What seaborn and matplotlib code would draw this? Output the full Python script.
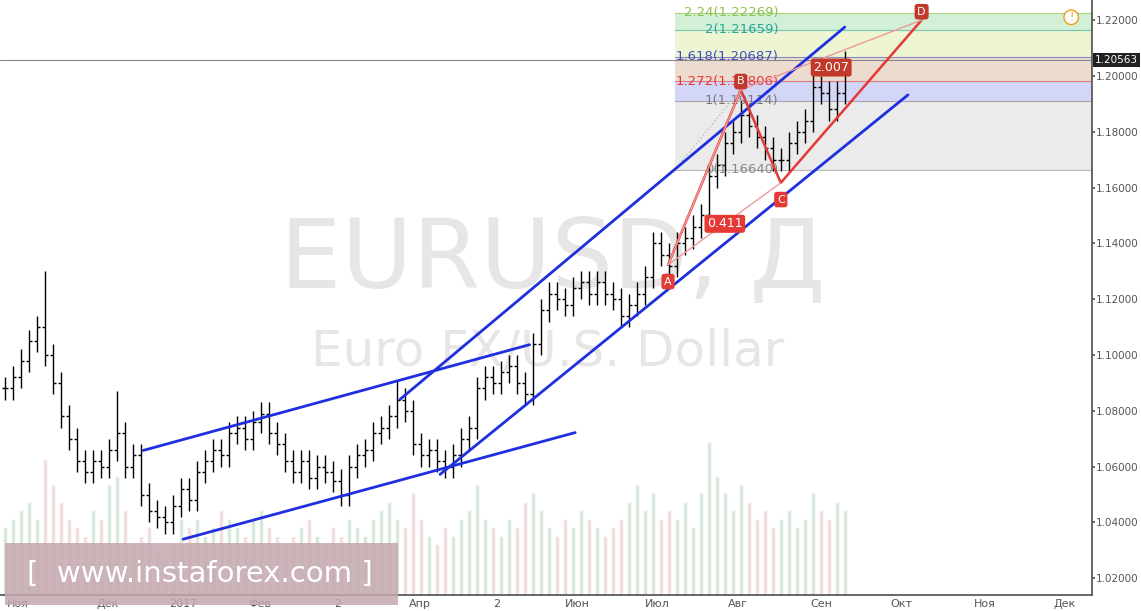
import matplotlib
matplotlib.use("Agg")
import matplotlib.pyplot as plt
import seaborn as sns
import numpy as np
import pandas as pd

sns.set_theme(style="white")
plt.rcParams['font.family'] = ['DejaVu Sans']

closes = [1.088,1.092,1.098,1.105,1.110,1.100,1.090,1.078,1.070,1.062,
          1.058,1.062,1.060,1.066,1.072,1.060,1.064,1.050,1.044,1.042,
          1.040,1.046,1.052,1.048,1.058,1.062,1.066,1.064,1.072,1.074,
          1.070,1.076,1.079,1.072,1.068,1.062,1.058,1.062,1.056,1.060,
          1.058,1.055,1.050,1.060,1.064,1.066,1.072,1.074,1.078,1.084,
          1.080,1.068,1.064,1.066,1.062,1.060,1.064,1.070,1.074,1.088,
          1.092,1.090,1.094,1.096,1.090,1.086,1.104,1.116,1.122,1.120,
          1.118,1.124,1.126,1.122,1.126,1.122,1.120,1.114,1.118,1.122,
          1.128,1.140,1.136,1.132,1.140,1.142,1.146,1.150,1.164,1.168,
          1.176,1.180,1.186,1.182,1.178,1.174,1.170,1.170,1.176,1.180,
          1.184,1.196,1.194,1.188,1.194,1.204]
extra_highs = {5: 1.130, 14: 1.087, 49: 1.091, 92: 1.191, 101: 1.203, 105: 1.209}
volumes = [0.8,0.9,1.0,1.1,0.9,1.6,1.3,1.1,0.9,0.8,0.7,1.0,0.9,1.3,1.4,1.0,0.6,0.7,0.8,0.5,
           0.4,0.6,0.9,0.8,0.9,0.7,0.8,1.0,0.9,0.8,0.7,0.9,1.0,0.8,0.7,0.6,0.7,0.8,0.9,0.7,
           0.6,0.8,0.7,0.9,0.8,0.7,0.9,1.0,1.1,0.9,0.8,1.2,0.9,0.7,0.6,0.8,0.7,0.9,1.0,1.3,
           0.9,0.8,0.7,0.9,0.8,1.1,1.2,1.0,0.8,0.7,0.9,0.8,1.0,0.9,0.8,0.7,0.8,0.9,1.1,1.3,
           1.0,1.2,0.9,1.0,0.9,1.1,0.8,1.2,1.8,1.4,1.2,1.0,1.3,1.1,0.9,1.0,0.8,0.9,1.0,0.8,
           0.9,1.2,1.0,0.9,1.1,1.0]
month_ticks = [1.6,12.9,22.3,31.9,41.6,51.9,61.5,71.6,81.6,91.6,102.1,112.1,122.5,132.5]
month_labels = ["Ноя","Дек","2017","Фев","2","Апр","2","Июн","Июл","Авг","Сен","Окт","Ноя","Дек"]
price_ticks = [1.02,1.04,1.06,1.08,1.10,1.12,1.14,1.16,1.18,1.20,1.22]
fib_levels = [0.0,1.0,1.272,1.618,2.0,2.24]
fib_prices = [1.16640,1.19114,1.19806,1.20687,1.21659,1.22269]
fib_colors = ["#ebebeb","#d4d6f7","#ecdcd0","#eef5d2","#d2f0d5"]
fib_text_colors = ["#888888","#7a7a7a","#e53935","#3f51b5","#26a69a","#8bc34a"]
blue_lines = [((49.4,1.0841),(105.0,1.2175)),((54.4,1.0572),(112.9,1.1932)),
              ((17.3,1.0658),(65.6,1.1037)),((22.3,1.0340),(71.3,1.0722))]
pts = {"A":(82.9,1.1323),"B":(92.0,1.1950),"C":(97.0,1.1617),"D":(114.6,1.2200)}
last_price = 1.20563

fig = plt.figure(figsize=(11.41,6.11), dpi=100)
ax = fig.add_axes([0, 16/611, 1092/1141, 595/611])
ymin, ymax = 1.0140, 1.2272
xmax = 135.9
ax.set_xlim(-0.6, xmax); ax.set_ylim(ymin, ymax)

# volume
vax = ax.twinx()
vdf = pd.DataFrame({"i": np.arange(len(volumes)), "v": volumes})
opens = [closes[0]] + closes[:-1]
vcols = ["#b5dcbd" if c >= o else "#f1c0c0" for o, c in zip(opens, closes)]
sns.barplot(data=vdf, x="i", y="v", hue="i", palette=vcols, legend=False,
            native_scale=True, ax=vax, width=0.45, alpha=0.6)
vax.set_ylim(0, 7.0); vax.set_yticks([]); vax.set_ylabel(""); vax.set_xlim(-0.6, xmax)
vax.set_zorder(0); ax.set_zorder(1); ax.patch.set_visible(False)
for s in vax.spines.values(): s.set_visible(False)

# watermark
ax.text(550/1092*xmax, 1.22-(262-20)/2795, "EURUSD, Д", fontsize=70, color="#e6e6e6",
        ha="center", va="center", zorder=0)
ax.text(545/1092*xmax, 1.22-(352-20)/2795, "Euro FX/U.S. Dollar", fontsize=36, color="#e6e6e6",
        ha="center", va="center", zorder=0)

# fib zones
x0 = 83.75
for k in range(5):
    ax.fill_between([x0, xmax], fib_prices[k], fib_prices[k+1], color=fib_colors[k], zorder=0.5, lw=0)
for k, (lv, p) in enumerate(zip(fib_levels, fib_prices)):
    ax.plot([x0, xmax], [p, p], color=fib_text_colors[k], lw=0.8, alpha=0.6, zorder=0.6)
    lab = f"{lv:g}({p:.5f})"
    ax.text(96.7, p, lab, fontsize=9.5, color=fib_text_colors[k],
            ha="right", va="center", zorder=3)

# OHLC bars
for i, c in enumerate(closes):
    o = opens[i]
    hi = extra_highs.get(i, max(o, c) + 0.004)
    lo = min(o, c) - 0.004
    ax.vlines(i, lo, hi, color="black", lw=1.0, zorder=2)
    ax.hlines(o, i-0.35, i, color="black", lw=1.0, zorder=2)
    ax.hlines(c, i, i+0.35, color="black", lw=1.0, zorder=2)

# blue channels
for (a, b) in blue_lines:
    ax.plot([a[0], b[0]], [a[1], b[1]], color="#1e2fe0", lw=2, zorder=4)

# pattern
A, B, C, D = pts["A"], pts["B"], pts["C"], pts["D"]
for p1, p2 in [(A,B),(B,C),(C,D)]:
    ax.plot([p1[0],p2[0]],[p1[1],p2[1]], color="#e53935", lw=1.8, zorder=4)
for p1, p2 in [(A,C),(B,D),(A,B)]:
    ax.plot([p1[0],p2[0]],[p1[1],p2[1]], color="#ef9a9a", lw=1, zorder=4)
ax.plot([x0, B[0]],[1.1664, B[1]], color="#bbbbbb", lw=1, ls=":", zorder=3)
for name, (xx, yy) in pts.items():
    off = -0.006 if name in "AC" else 0.003
    fc = "#e53935" if name in "AC" else "#c0392b"
    ax.text(xx, yy+off, name, fontsize=8, color="white", ha="center", va="center", zorder=6,
            bbox=dict(boxstyle="round,pad=0.25", fc=fc, ec="none"))
ax.text(90.0, 1.1470, "0.411", fontsize=9, color="white", ha="center", va="center", zorder=6,
        bbox=dict(boxstyle="round,pad=0.2", fc="#e53935", ec="none"))
ax.text(103.3, 1.2030, "2.007", fontsize=9, color="white", ha="center", va="center", zorder=6,
        bbox=dict(boxstyle="round,pad=0.2", fc="#c0392b", ec="none"))
ax.text(133.3, 1.2210, "!", fontsize=8, color="#f39c12", ha="center", va="center", zorder=6,
        bbox=dict(boxstyle="circle,pad=0.2", fc="white", ec="#f39c12"))

# last price
ax.axhline(last_price, color="#888888", lw=0.8, zorder=3)

# axes
ax.yaxis.tick_right()
ax.set_yticks(price_ticks)
ax.set_yticklabels([f"{p:.5f}" for p in price_ticks], fontsize=7.5, color="#333333")
ax.set_xticks(month_ticks)
ax.set_xticklabels(month_labels, fontsize=8, color="#333333")
ax.tick_params(axis="both", length=2, pad=1, colors="#555555")
for s in ["top","left"]: ax.spines[s].set_visible(False)
ax.spines["right"].set_color("#555555"); ax.spines["bottom"].set_color("#555555")
ax.text(1.003, last_price, f"{last_price:.5f}", transform=ax.get_yaxis_transform(), fontsize=7.5,
        color="white", ha="left", va="center", zorder=7, clip_on=False,
        bbox=dict(boxstyle="square,pad=0.2", fc="#222222", ec="none"))

# logo
fig.patches.append(plt.Rectangle((5/1141, 6/611), 393/1141, 62/611, transform=fig.transFigure,
                                 fc="#c4a8ae", ec="none", alpha=0.85, zorder=10))
fig.text(200/1141, 37/611, "[  www.instaforex.com ]", fontsize=21, color="white",
         ha="center", va="center", zorder=11)

fig.savefig("out.png", dpi=100)
